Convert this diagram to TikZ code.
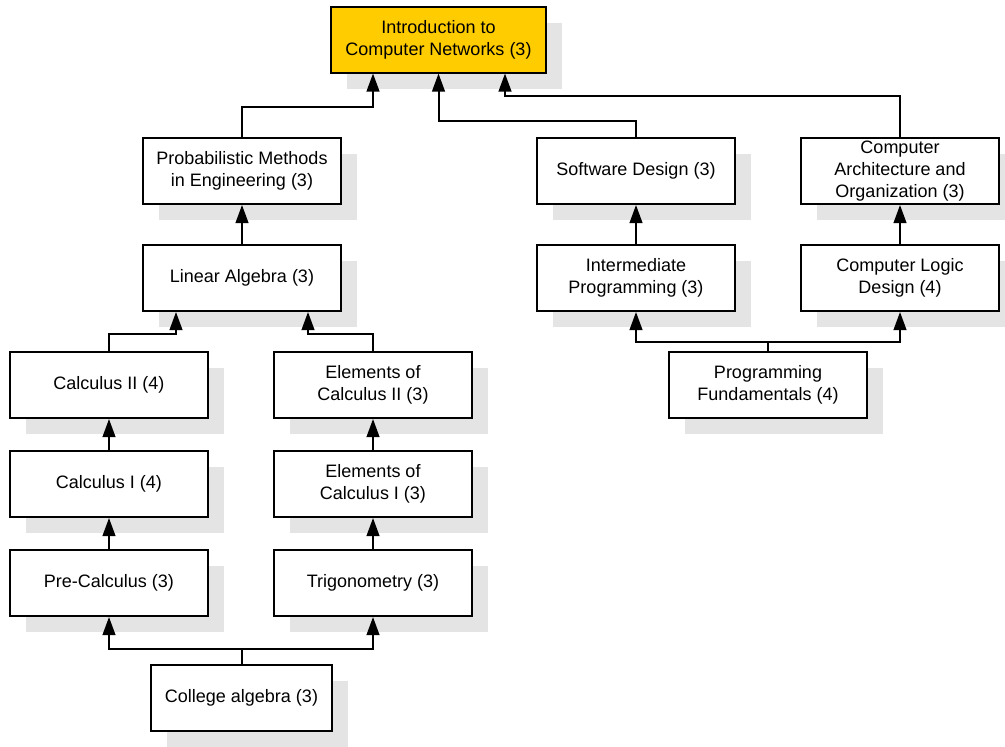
\documentclass[tikz,border=0pt]{standalone}
\usepackage{fontspec}
\setmainfont{Liberation Sans}
\usetikzlibrary{arrows.meta,shadows}
\definecolor{shadowgray}{HTML}{E4E4E4}
\definecolor{gold}{HTML}{FFCC00}
\begin{document}
\begin{tikzpicture}[x=0.75pt,y=-0.75pt,
  course/.style={draw=black, line width=1.5pt, fill=white, rectangle,
    minimum width=148.5pt, minimum height=49.5pt, inner sep=0pt, align=center,
    font=\fontsize{13.5pt}{16.5pt}\selectfont,
    general shadow={fill=shadowgray, draw=none, shadow xshift=12pt, shadow yshift=-12pt}},
  arr/.style={line width=1.5pt, -{Triangle[length=13.5pt,width=9.5pt]}}]
\path[use as bounding box, fill=white] (0,0) rectangle (1005,746);

\node[course, fill=gold, minimum width=161.25pt] (top) at (438.5,39.5) {Introduction to\\Computer Networks (3)};
\node[course] (prob) at (242,171) {Probabilistic Methods\\in Engineering (3)};
\node[course] (linalg) at (242,278) {Linear Algebra (3)};
\node[course] (calc2) at (109,385) {Calculus II (4)};
\node[course] (elem2) at (373,385) {Elements of\\Calculus II (3)};
\node[course] (calc1) at (109,484) {Calculus I (4)};
\node[course] (elem1) at (373,484) {Elements of\\Calculus I (3)};
\node[course] (precalc) at (109,583) {Pre-Calculus (3)};
\node[course] (trig) at (373,583) {Trigonometry (3)};
\node[course, minimum width=135.75pt] (college) at (241.5,698) {College algebra (3)};
\node[course] (softdes) at (636,171) {Software Design (3)};
\node[course] (comparch) at (900,171) {Computer\\Architecture and\\Organization (3)};
\node[course] (interm) at (636,278) {Intermediate\\Programming (3)};
\node[course] (logic) at (900,278) {Computer Logic\\Design (4)};
\node[course] (progfund) at (768,385) {Programming\\Fundamentals (4)};

\path (top.south) ++(-65.5,0) coordinate (t1);
\path (top.south) ++(66.5,0) coordinate (t3);
\path (linalg.south) ++(-66,0) coordinate (l1);
\path (linalg.south) ++(66,0) coordinate (l2);

\draw[arr] (prob.north) -- ++(0,-30) -| (t1);
\draw[arr] (softdes.north) -- ++(0,-16) -| (top.south);
\draw[arr] (comparch.north) -- ++(0,-41) -| (t3);
\draw[arr] (linalg) -- (prob);
\draw[arr] (calc2.north) -- ++(0,-17) -| (l1);
\draw[arr] (elem2.north) -- ++(0,-17) -| (l2);
\draw[arr] (calc1) -- (calc2);
\draw[arr] (elem1) -- (elem2);
\draw[arr] (precalc) -- (calc1);
\draw[arr] (trig) -- (elem1);
\draw[arr] (college.north) -- ++(0,-15) -| (precalc.south);
\draw[arr] (college.north) -- ++(0,-15) -| (trig.south);
\draw[arr] (interm) -- (softdes);
\draw[arr] (logic) -- (comparch);
\draw[arr] (progfund.north) -- ++(0,-9) -| (interm.south);
\draw[arr] (progfund.north) -- ++(0,-9) -| (logic.south);
\end{tikzpicture}
\end{document}
